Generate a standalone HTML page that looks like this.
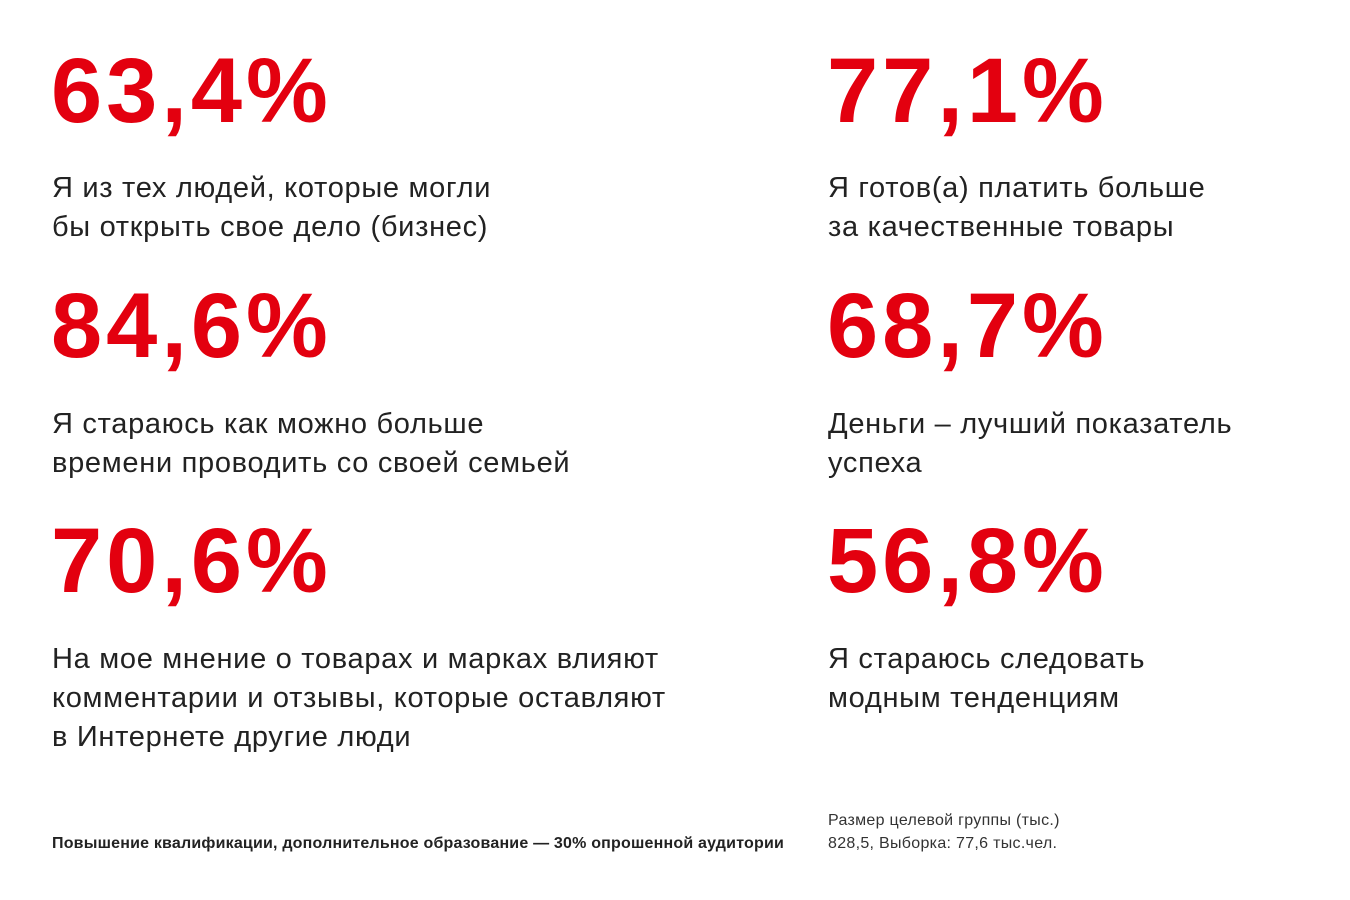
<!DOCTYPE html>
<html><head><meta charset="utf-8">
<style>
body{margin:0;width:1350px;height:900px;background:#fff;position:relative;overflow:hidden;font-family:"Liberation Sans",sans-serif;}
.num{position:absolute;font-weight:bold;color:#e3000f;font-size:92px;line-height:92px;letter-spacing:4px;}
.txt{position:absolute;color:#222;font-size:29px;line-height:39px;letter-spacing:0.7px;}
.foot{position:absolute;color:#222;font-size:16px;line-height:23px;letter-spacing:0.2px;}
</style></head><body>
<div class="num" style="left:51px;top:45px">63,4%</div>
<div class="txt" style="left:52px;top:169px">Я из тех людей, которые могли<br>бы открыть свое дело (бизнес)</div>
<div class="num" style="left:51px;top:280px">84,6%</div>
<div class="txt" style="left:52px;top:405px">Я стараюсь как можно больше<br>времени проводить со своей семьей</div>
<div class="num" style="left:51px;top:515px">70,6%</div>
<div class="txt" style="left:52px;top:640px">На мое мнение о товарах и марках влияют<br>комментарии и отзывы, которые оставляют<br>в Интернете другие люди</div>
<div class="num" style="left:827px;top:45px">77,1%</div>
<div class="txt" style="left:828px;top:169px">Я готов(а) платить больше<br>за качественные товары</div>
<div class="num" style="left:827px;top:280px">68,7%</div>
<div class="txt" style="left:828px;top:405px">Деньги – лучший показатель<br>успеха</div>
<div class="num" style="left:827px;top:515px">56,8%</div>
<div class="txt" style="left:828px;top:640px">Я стараюсь следовать<br>модным тенденциям</div>
<div class="foot" style="left:52px;top:832px;font-weight:bold;">Повышение квалификации, дополнительное образование — 30% опрошенной аудитории</div>
<div class="foot" style="left:828px;top:809px;color:#333;letter-spacing:0.3px;">Размер целевой группы (тыс.)<br>828,5, Выборка: 77,6 тыс.чел.</div>
</body></html>
